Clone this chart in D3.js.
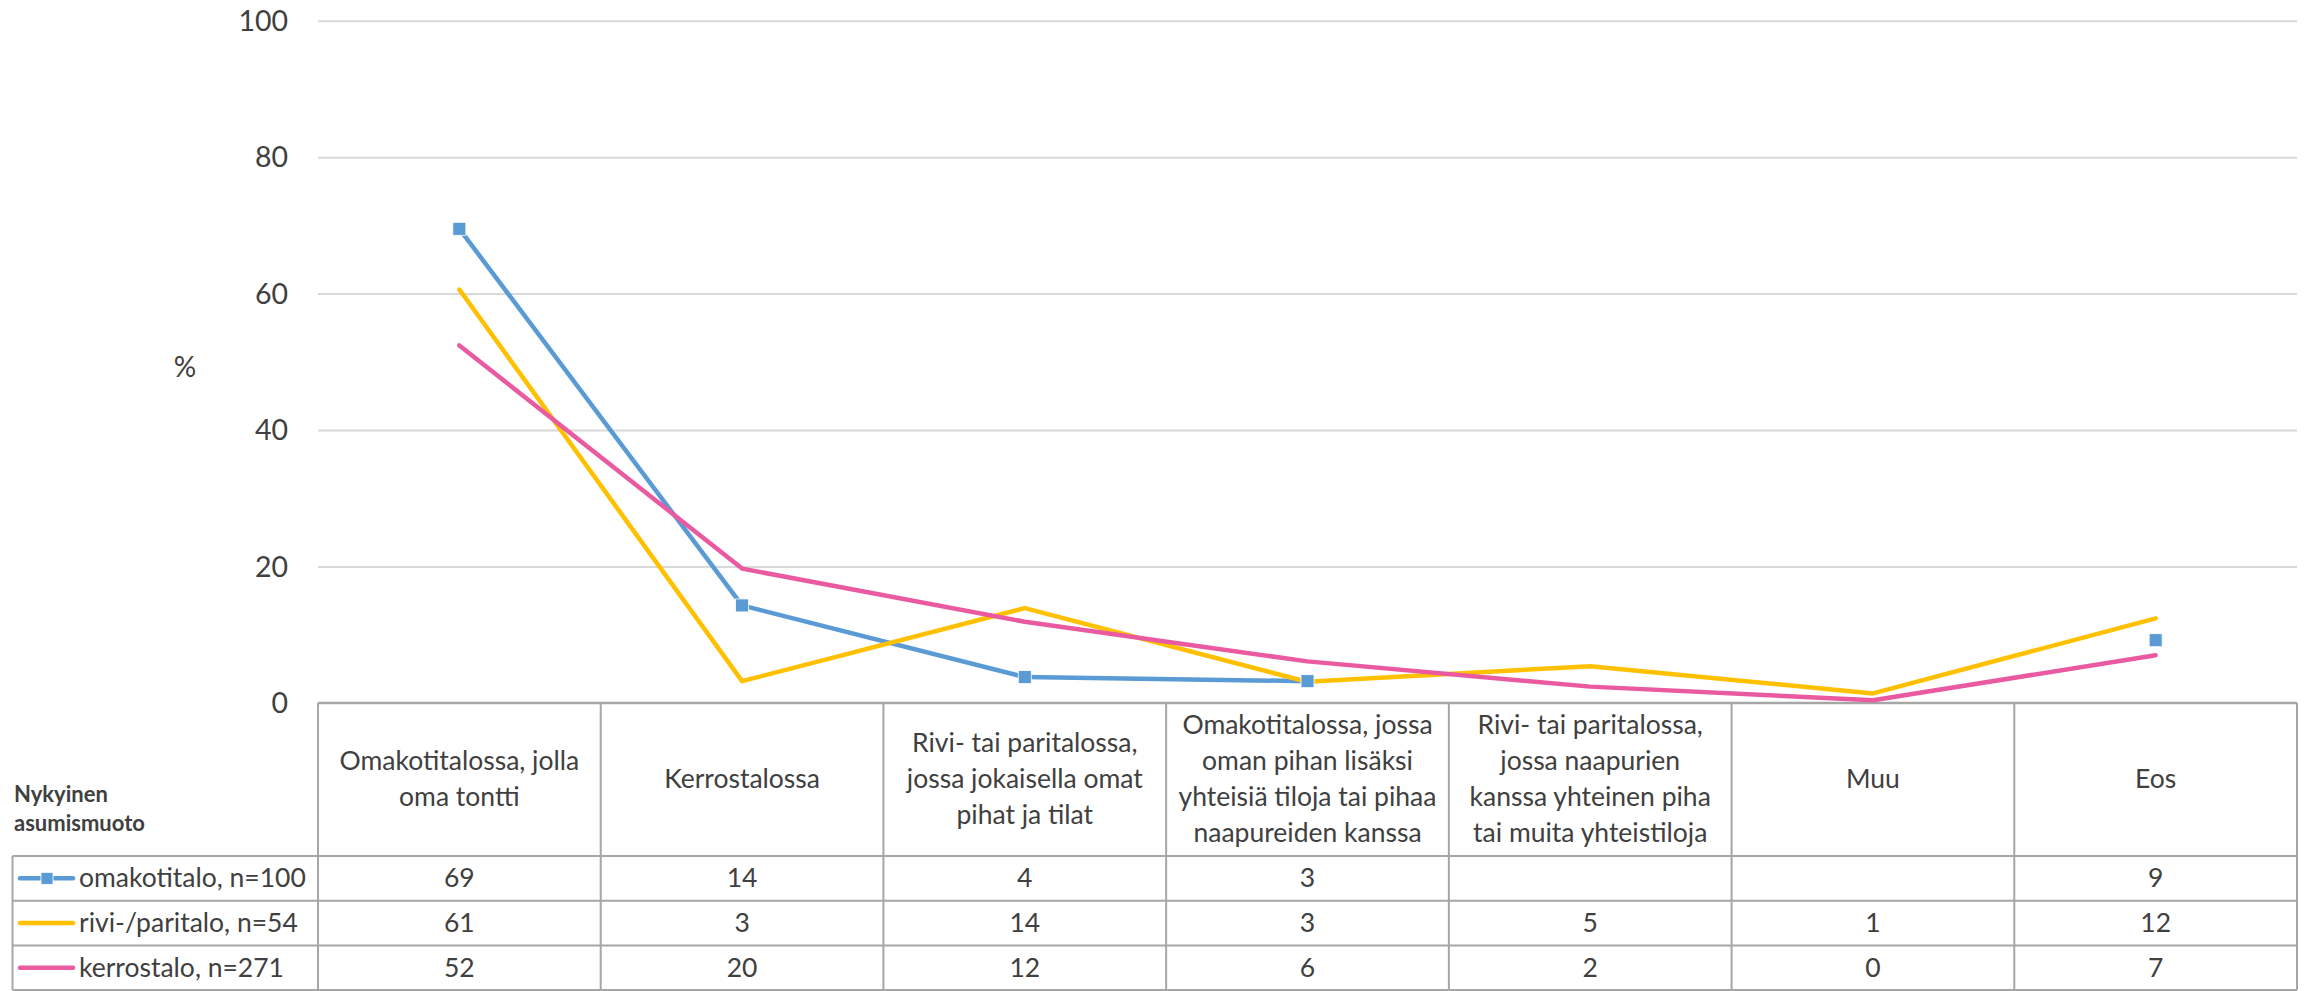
<!DOCTYPE html>
<html>
<head>
<meta charset="utf-8">
<script src="https://cdnjs.cloudflare.com/ajax/libs/d3/7.8.5/d3.min.js"></script>
<style>
  html, body { margin: 0; padding: 0; background: #fff; }
  svg { display: block; }
  text { font-family: Lato, "Noto Sans", sans-serif; fill: #404040; }
</style>
</head>
<body>
<svg id="chart" width="2315" height="991"></svg>
<script>
// ---- data ----
const categories = [
  "Omakotitalossa, jolla\noma tontti",
  "Kerrostalossa",
  "Rivi- tai paritalossa,\njossa jokaisella omat\npihat ja tilat",
  "Omakotitalossa, jossa\noman pihan lisäksi\nyhteisiä tiloja tai pihaa\nnaapureiden kanssa",
  "Rivi- tai paritalossa,\njossa naapurien\nkanssa yhteinen piha\ntai muita yhteistiloja",
  "Muu",
  "Eos"
];
const seriesNames = ["omakotitalo, n=100", "rivi-/paritalo, n=54", "kerrostalo, n=271"];
const omakotitaloValues = [69.5, 14.3, 3.8, 3.2, null, null, 9.2];
const riviParitaloValues = [60.6, 3.2, 13.9, 3.1, 5.4, 1.4, 12.4];
const kerrostaloValues = [52.4, 19.7, 11.9, 6.1, 2.4, 0.4, 7.0];
const omakotitaloLabels = ["69", "14", "4", "3", "", "", "9"];
const riviParitaloLabels = ["61", "3", "14", "3", "5", "1", "12"];
const kerrostaloLabels = ["52", "20", "12", "6", "2", "0", "7"];
const yTicks = [0, 20, 40, 60, 80, 100];
const yAxisTitle = "%";
const tableTitle = ["Nykyinen", "asumismuoto"];

const colors = ["#5B9BD5", "#FFC000", "#EA5AA0"];
const series = [
  { name: seriesNames[0], values: omakotitaloValues, labels: omakotitaloLabels, color: colors[0], marker: true },
  { name: seriesNames[1], values: riviParitaloValues, labels: riviParitaloLabels, color: colors[1], marker: false },
  { name: seriesNames[2], values: kerrostaloValues, labels: kerrostaloLabels, color: colors[2], marker: false }
];

// ---- layout ----
const plotLeft = 318, plotRight = 2297;
const yTop = 20.7, yBottom = 703;
const headerBottom = 856;
const rowH = 44.7;
const legendLeft = 12.5;
const tableFont = "26.5px";

const svg = d3.select("#chart");

const x = d3.scaleBand().domain(d3.range(categories.length)).range([plotLeft, plotRight]).padding(0);
const cx = i => x(i) + x.bandwidth() / 2;
const y = d3.scaleLinear().domain([0, 100]).range([yBottom, yTop]);

// gridlines
const yAxis = d3.axisLeft(y).tickValues(yTicks.filter(t => t > 0)).tickSize(-(plotRight - plotLeft)).tickFormat("");
const grid = svg.append("g").attr("transform", `translate(${plotLeft},0)`).call(yAxis);
grid.select(".domain").remove();
grid.selectAll(".tick line").attr("stroke", "#D9D9D9").attr("stroke-width", 2);

// tick labels
svg.append("g").selectAll("text").data(yTicks).join("text")
  .attr("x", 288).attr("y", d => y(d) + 10)
  .attr("text-anchor", "end")
  .style("font-size", "28.5px")
  .text(d => d);

// axis title
svg.append("text").attr("x", 185).attr("y", 377).attr("text-anchor", "middle")
  .style("font-size", "28px").text(yAxisTitle);

// ---- table ----
const borderColor = "#A6A6A6";
const tableBottom = headerBottom + rowH * series.length;
const tg = svg.append("g");
tg.append("line").attr("x1", plotLeft).attr("x2", plotRight).attr("y1", yBottom).attr("y2", yBottom)
  .attr("stroke", borderColor).attr("stroke-width", 2.5);
const vx = d3.range(categories.length + 1).map(i => i < categories.length ? x(i) : plotRight);
tg.selectAll("line.v").data(vx).join("line").attr("class", "v")
  .attr("x1", d => d).attr("x2", d => d).attr("y1", yBottom).attr("y2", tableBottom)
  .attr("stroke", borderColor).attr("stroke-width", 2);
tg.append("line").attr("x1", legendLeft).attr("x2", legendLeft).attr("y1", headerBottom).attr("y2", tableBottom)
  .attr("stroke", borderColor).attr("stroke-width", 2);
const hy = d3.range(series.length + 1).map(i => headerBottom + i * rowH);
tg.selectAll("line.h").data(hy).join("line").attr("class", "h")
  .attr("x1", legendLeft).attr("x2", plotRight).attr("y1", d => d).attr("y2", d => d)
  .attr("stroke", borderColor).attr("stroke-width", 2);

// header texts
const headerMid = (yBottom + headerBottom) / 2;
const lineH = 35.7;
categories.forEach((c, i) => {
  const lines = c.split("\n");
  const t = tg.append("text").attr("text-anchor", "middle").style("font-size", tableFont);
  lines.forEach((ln, j) => {
    t.append("tspan").attr("x", cx(i))
      .attr("y", headerMid + 8.5 + (j - (lines.length - 1) / 2) * lineH)
      .text(ln);
  });
});

// table title
tableTitle.forEach((ln, j) => {
  tg.append("text").attr("x", 14).attr("y", 802 + j * 29)
    .style("font-size", "22px").style("font-weight", "bold").text(ln);
});

// rows
series.forEach((s, r) => {
  const rc = headerBottom + rowH * r + rowH / 2;
  tg.append("line").attr("x1", 20).attr("x2", 73).attr("y1", rc).attr("y2", rc)
    .attr("stroke", s.color).attr("stroke-width", 4.5).attr("stroke-linecap", "round");
  if (s.marker) {
    tg.append("rect").attr("x", 47 - 6).attr("y", rc - 6).attr("width", 12).attr("height", 12)
      .attr("fill", s.color).attr("stroke", "#fff").attr("stroke-width", 0.8);
  }
  tg.append("text").attr("x", 79).attr("y", rc + 9).style("font-size", tableFont).text(s.name);
  s.labels.forEach((lb, i) => {
    tg.append("text").attr("x", cx(i)).attr("y", rc + 9).attr("text-anchor", "middle")
      .style("font-size", tableFont).text(lb);
  });
});

// ---- lines ----
const line = d3.line().defined(d => d != null).x((d, i) => cx(i)).y(d => y(d));
const lg = svg.append("g");
series.forEach(s => {
  lg.append("path").datum(s.values).attr("d", line)
    .attr("fill", "none").attr("stroke", s.color).attr("stroke-width", 4.5)
    .attr("stroke-linejoin", "round").attr("stroke-linecap", "round");
});
const ms = series[0];
lg.selectAll("rect.m").data(ms.values.map((v, i) => ({ v, i })).filter(d => d.v != null)).join("rect")
  .attr("class", "m")
  .attr("x", d => cx(d.i) - 6.5).attr("y", d => y(d.v) - 6.5)
  .attr("width", 13).attr("height", 13)
  .attr("fill", ms.color).attr("stroke", "#fff").attr("stroke-width", 0.8);
</script>
</body>
</html>
